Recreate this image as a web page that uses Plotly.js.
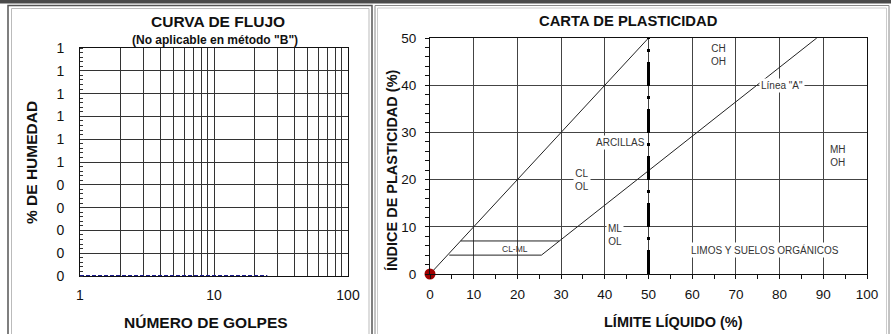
<!DOCTYPE html>
<html>
<head>
<meta charset="utf-8">
<script src="https://cdn.plot.ly/plotly-3.0.1.min.js"></script>
<style>html,body{margin:0;padding:0;background:#fff;}#chart{width:891px;height:334px;}</style>
</head>
<body>
<div id="chart"></div>
<script>
// ---- Data: flow curve (left) ----
var golpes = [1, 25];
var humedad = [0, 0];
var humTickVals = [0, 0.1, 0.2, 0.3, 0.4, 0.5, 0.6, 0.7, 0.8, 0.9, 1.0];
var humTickText = ['0', '0', '0', '0', '0', '1', '1', '1', '1', '1', '1'];
var golpesTickVals = [1,2,3,4,5,6,7,8,9,10,20,30,40,50,60,70,80,90,100];
var golpesTickText = ['1','','','','','','','','','10','','','','','','','','','100'];

// ---- Data: plasticity chart (right) ----
var lineU_LL = [0, 50];
var lineU_PI = [0, 50];
var lineA_LL = [25.5, 88.5];
var lineA_PI = [4, 50];
var clml7_LL = [7, 29.6];
var clml7_PI = [7, 7];
var clml4_LL = [4.4, 25.5];
var clml4_PI = [4, 4];
var ll50_LL = [50, 50];
var ll50_PI = [0, 50];
var sample_LL = [0];
var sample_PI = [0];

var W = 891, H = 334;
function px(x){ return x / W; }
function py(y){ return 1 - y / H; }

var traces = [
  {x: golpes, y: humedad, xaxis:'x', yaxis:'y', mode:'lines',
   line:{color:'#1a1a8c', width:2, dash:'4px,2px'}, hoverinfo:'skip'},
  {x: lineU_LL, y: lineU_PI, xaxis:'x2', yaxis:'y2', mode:'lines', line:{color:'#222', width:1}},
  {x: lineA_LL, y: lineA_PI, xaxis:'x2', yaxis:'y2', mode:'lines', line:{color:'#222', width:1}},
  {x: clml7_LL, y: clml7_PI, xaxis:'x2', yaxis:'y2', mode:'lines', line:{color:'#222', width:1}},
  {x: clml4_LL, y: clml4_PI, xaxis:'x2', yaxis:'y2', mode:'lines', line:{color:'#222', width:1}},
  {x: ll50_LL, y: ll50_PI, xaxis:'x2', yaxis:'y2', mode:'lines', line:{color:'#000', width:3, dash:'24px,10px,3px,10px'}},
  {x: sample_LL, y: sample_PI, xaxis:'x2', yaxis:'y2', mode:'markers', cliponaxis:false,
   marker:{color:'#a00000', size:11}}
];

var tickFont = {family:'Liberation Sans, Arial, sans-serif', size:14, color:'#111'};
var noteFont = {family:'Liberation Sans, Arial, sans-serif', size:10, color:'#333'};
var boldFont = function(s){ return {family:'Liberation Sans, Arial, sans-serif', size:s, color:'#111', weight:'bold'}; };

function note(text, x, y, extra){
  var a = {text:text, x:x, y:y, xref:'x2', yref:'y2', showarrow:false, font:noteFont,
           bgcolor:'#fff', borderpad:1, align:'center', xanchor:'center', yanchor:'middle'};
  if (extra) for (var k in extra) a[k] = extra[k];
  return a;
}
function ptext(text, x, y, size, angle){
  var a = {text:text, xref:'paper', yref:'paper', x:px(x), y:py(y), showarrow:false,
           xanchor:'center', yanchor:'middle', font:boldFont(size)};
  if (angle) a.textangle = angle;
  return a;
}

var layout = {
  width: W, height: H,
  margin:{l:0, r:0, t:0, b:0},
  paper_bgcolor:'#fff', plot_bgcolor:'#fff',
  showlegend:false,
  xaxis:{domain:[px(80), px(348)], anchor:'y', type:'log', range:[0, 2],
         tickmode:'array', tickvals:golpesTickVals, ticktext:golpesTickText,
         showgrid:true, gridcolor:'#333', gridwidth:1,
         showline:true, linecolor:'#111', linewidth:1, mirror:true,
         ticks:'', tickfont:tickFont, ticklabelstandoff:6, zeroline:false},
  yaxis:{domain:[py(276), py(48)], anchor:'x', range:[0, 1],
         tickmode:'array', tickvals:humTickVals, ticktext:humTickText,
         showgrid:true, gridcolor:'#333', gridwidth:1,
         showline:true, linecolor:'#111', linewidth:1, mirror:true,
         ticks:'', tickfont:tickFont, ticklabelstandoff:12, zeroline:false,
         minor:{dtick:0.02, ticks:'inside', ticklen:3, tickcolor:'#333', showgrid:false}},
  xaxis2:{domain:[px(430), px(867)], anchor:'y2', range:[0, 100], dtick:10,
          showgrid:true, gridcolor:'#444', gridwidth:1,
          showline:true, linecolor:'#111', linewidth:1, mirror:true,
          ticks:'outside', ticklen:4, tickcolor:'#111', tickfont:{family:'Liberation Sans, Arial, sans-serif', size:13.5, color:'#111'},
          ticklabelstandoff:4, zeroline:false,
          minor:{dtick:5, ticks:'outside', ticklen:4, tickcolor:'#111', showgrid:false}},
  yaxis2:{domain:[py(274), py(38)], anchor:'x2', range:[0, 50], dtick:10,
          showgrid:true, gridcolor:'#444', gridwidth:1,
          showline:true, linecolor:'#111', linewidth:1, mirror:true,
          ticks:'outside', ticklen:4, tickcolor:'#111', tickfont:{family:'Liberation Sans, Arial, sans-serif', size:13.5, color:'#111'},
          ticklabelstandoff:6, zeroline:false,
          minor:{dtick:2, ticks:'outside', ticklen:4, tickcolor:'#111', showgrid:false}},
  shapes:[
    {type:'rect', xref:'paper', yref:'paper', x0:0, x1:1, y0:py(3.5), y1:1, fillcolor:'#4a4a4a', line:{width:0}},
    {type:'rect', xref:'paper', yref:'paper', x0:px(8), x1:px(372), y0:py(340), y1:py(5.5), line:{color:'#555', width:1.5}},
    {type:'rect', xref:'paper', yref:'paper', x0:px(11.5), x1:px(369), y0:py(340), y1:py(8.5), line:{color:'#bbb', width:1}},
    {type:'rect', xref:'paper', yref:'paper', x0:px(375), x1:px(889), y0:py(340), y1:py(5.5), line:{color:'#888', width:1}},
    {type:'rect', xref:'paper', yref:'paper', x0:px(377.5), x1:px(886.5), y0:py(340), y1:py(8), line:{color:'#ccc', width:1}}
  ],
  annotations:[
    ptext('CURVA DE FLUJO', 218, 21, 15.5),
    ptext('(No aplicable en método "B")', 215, 40, 12),
    ptext('NÚMERO DE GOLPES', 206, 322, 15.5),
    ptext('% DE HUMEDAD', 31, 163, 15.5, -90),
    ptext('CARTA DE PLASTICIDAD', 628, 21, 14.8),
    ptext('LÍMITE LÍQUIDO (%)', 673, 322, 14.5),
    ptext('ÍNDICE DE PLASTICIDAD (%)', 392, 170, 14.5, -90),
    note('CH<br>OH', 66, 46.5),
    note('Línea "A"', 80.5, 40),
    note('ARCILLAS', 43.5, 27.8),
    note('CL<br>OL', 34.8, 20),
    note('ML<br>OL', 42.3, 8.3),
    note('MH<br>OH', 93.4, 25, {bgcolor:'rgba(0,0,0,0)'}),
    note('CL-ML', 19.5, 5.4, {font:{family:'Liberation Sans, Arial, sans-serif', size:8.5, color:'#333'}, bgcolor:'rgba(0,0,0,0)'}),
    note('LIMOS Y SUELOS ORGÁNICOS', 76.7, 5)
  ]
};

Plotly.newPlot('chart', traces, layout, {displayModeBar:false, staticPlot:true});
</script>
</body>
</html>
